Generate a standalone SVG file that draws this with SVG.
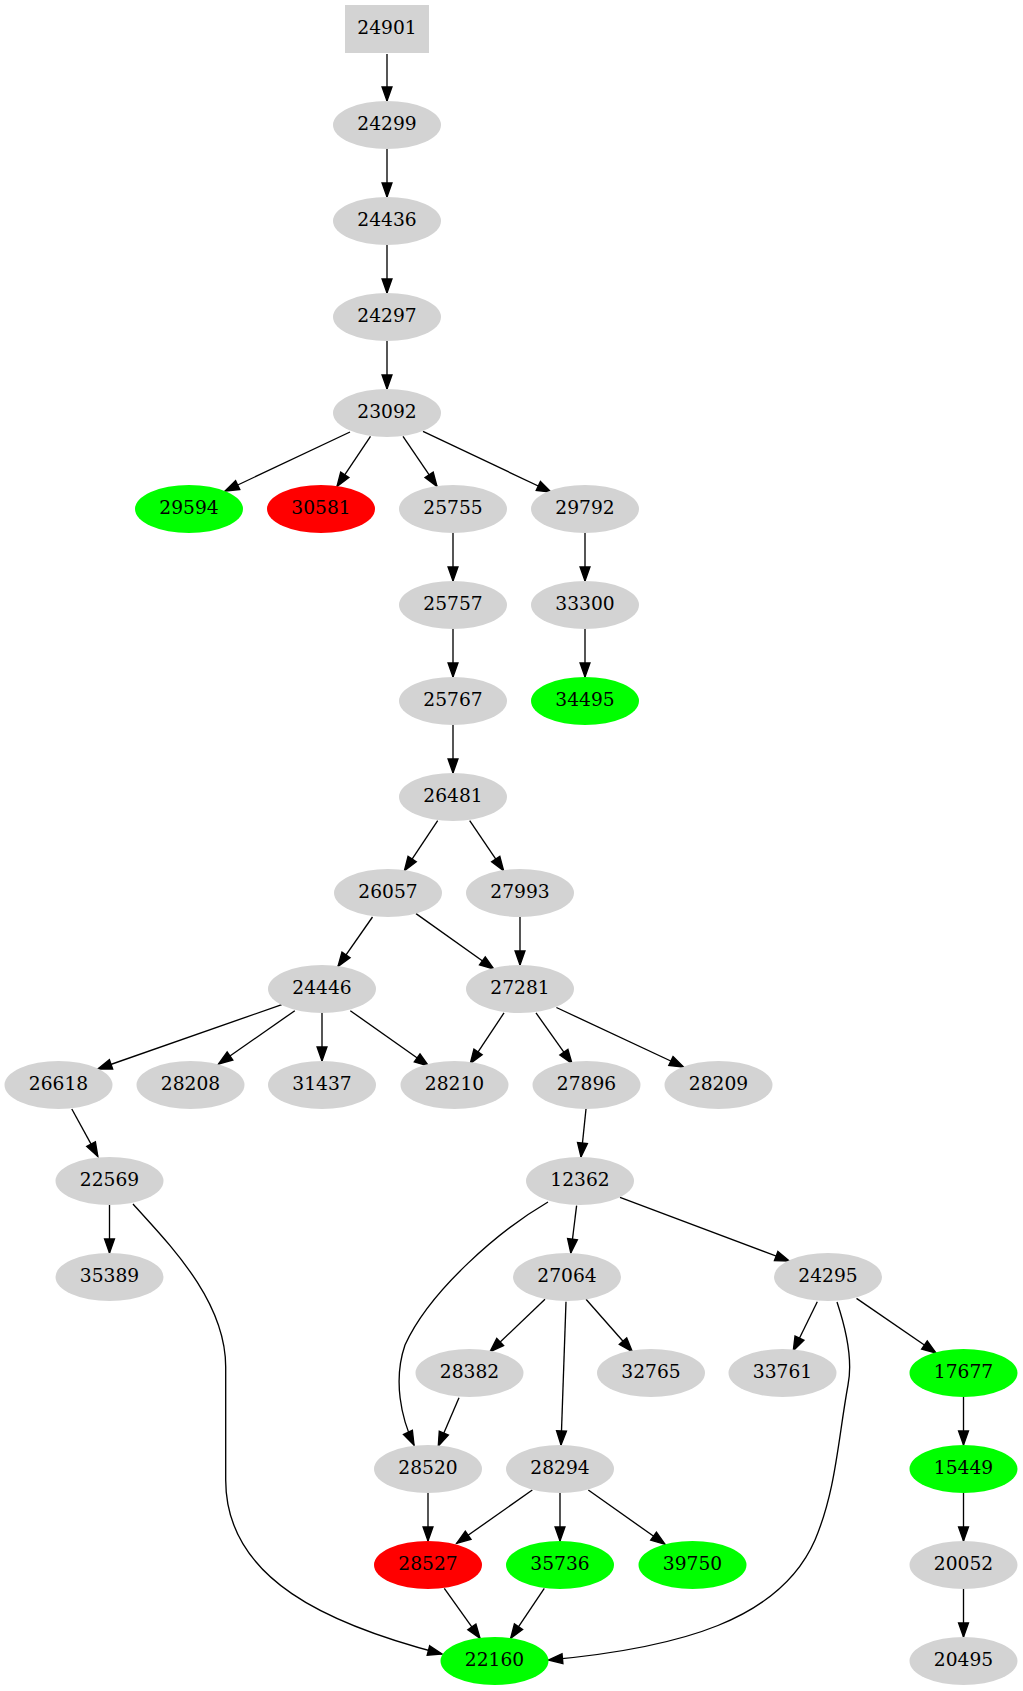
<svg xmlns="http://www.w3.org/2000/svg" width="1023" height="1691" viewBox="0 0 1023 1691">
<style>
.n{fill:#d3d3d3}
.g{fill:#00ff00}
.r{fill:#ff0000}
text{font-family:"DejaVu Serif","Liberation Serif",serif;font-size:18.67px;text-anchor:middle;fill:#000}
.e path{fill:none;stroke:#000;stroke-width:1.33;marker-end:url(#a)}
</style>
<defs>
<marker id="a" markerUnits="userSpaceOnUse" markerWidth="14" markerHeight="10" refX="13.3" refY="4.67" orient="auto" viewBox="0 0 13.3 9.34" overflow="visible">
<path d="M0,0 L13.3,4.67 L0,9.34 z" fill="#000" stroke="#000" stroke-width="1.33"/>
</marker>
</defs>
<rect width="1023" height="1691" fill="#fff"/>
<g id="edges" class="e">
<path d="M387,54 L387,101"/>
<path d="M387,149 L387,197"/>
<path d="M387,245 L387,293"/>
<path d="M387,341 L387,389"/>
<path d="M350,432 L225,491"/>
<path d="M370.5,436.4 L337,486.4"/>
<path d="M403,436.4 L437,486.4"/>
<path d="M423,431.4 L551,492"/>
<path d="M453,533 L453,581"/>
<path d="M585,533 L585,581"/>
<path d="M453,629 L453,677"/>
<path d="M585,629 L585,677"/>
<path d="M453,725 L453,773"/>
<path d="M437.7,820.7 L404.4,870.7"/>
<path d="M469.7,820.7 L503.6,870.7"/>
<path d="M372.5,917 L338,966.4"/>
<path d="M416,913.6 L493.8,969"/>
<path d="M520,917 L520,965"/>
<path d="M281.8,1004.6 L97.8,1069"/>
<path d="M294.8,1010.7 L218.5,1064"/>
<path d="M322,1013 L322,1061"/>
<path d="M350.3,1010.7 L428.6,1066"/>
<path d="M504,1012.9 L470.3,1063.6"/>
<path d="M536,1012.9 L572,1063.6"/>
<path d="M556.4,1007.5 L683.6,1067"/>
<path d="M71.8,1109 L97.8,1156.4"/>
<path d="M586,1109 L581,1157"/>
<path d="M109.5,1205 L109.5,1253"/>
<path d="M133,1204 C168,1243 225.7,1300 225.7,1367 L225.7,1480 C225.7,1580 330,1625 442,1654"/>
<path d="M548,1202 C500,1230 430,1290 405,1345 C393,1380 401,1418 414,1445"/>
<path d="M576.6,1205.6 L570.8,1253"/>
<path d="M620,1197.3 L789.3,1261"/>
<path d="M545,1299.3 L490,1351.7"/>
<path d="M566,1301.7 L561,1445"/>
<path d="M586,1299.3 L632.3,1351.7"/>
<path d="M817.3,1301.7 L793.3,1350.7"/>
<path d="M837,1302 C848,1335 852,1365 848,1385 C838,1440 836,1490 815,1540 C780,1620 680,1648 548.5,1660"/>
<path d="M856.5,1298.4 L936,1353"/>
<path d="M459,1397.7 L438.3,1446"/>
<path d="M428,1493 L428,1541"/>
<path d="M532.3,1490 L456.7,1543.3"/>
<path d="M560,1493 L560,1541"/>
<path d="M588.3,1490 L665,1544.3"/>
<path d="M963.5,1397 L963.5,1445"/>
<path d="M963.5,1493 L963.5,1541"/>
<path d="M963.5,1589 L963.5,1637"/>
<path d="M444.3,1588.3 L480,1638.3"/>
<path d="M544.3,1588.3 L510.7,1638.3"/>
</g>
<g id="n24901"><rect class="n" x="345" y="5" width="84" height="48"/><text x="387" y="34.3">24901</text></g>
<g id="n24299"><ellipse class="n" cx="387" cy="125" rx="54" ry="24"/><text x="387" y="130.3">24299</text></g>
<g id="n24436"><ellipse class="n" cx="387" cy="221" rx="54" ry="24"/><text x="387" y="226.3">24436</text></g>
<g id="n24297"><ellipse class="n" cx="387" cy="317" rx="54" ry="24"/><text x="387" y="322.3">24297</text></g>
<g id="n23092"><ellipse class="n" cx="387" cy="413" rx="54" ry="24"/><text x="387" y="418.3">23092</text></g>
<g id="n29594"><ellipse class="g" cx="189" cy="509" rx="54" ry="24"/><text x="189" y="514.3">29594</text></g>
<g id="n30581"><ellipse class="r" cx="321" cy="509" rx="54" ry="24"/><text x="321" y="514.3">30581</text></g>
<g id="n25755"><ellipse class="n" cx="453" cy="509" rx="54" ry="24"/><text x="453" y="514.3">25755</text></g>
<g id="n29792"><ellipse class="n" cx="585" cy="509" rx="54" ry="24"/><text x="585" y="514.3">29792</text></g>
<g id="n25757"><ellipse class="n" cx="453" cy="605" rx="54" ry="24"/><text x="453" y="610.3">25757</text></g>
<g id="n33300"><ellipse class="n" cx="585" cy="605" rx="54" ry="24"/><text x="585" y="610.3">33300</text></g>
<g id="n25767"><ellipse class="n" cx="453" cy="701" rx="54" ry="24"/><text x="453" y="706.3">25767</text></g>
<g id="n34495"><ellipse class="g" cx="585" cy="701" rx="54" ry="24"/><text x="585" y="706.3">34495</text></g>
<g id="n26481"><ellipse class="n" cx="453" cy="797" rx="54" ry="24"/><text x="453" y="802.3">26481</text></g>
<g id="n26057"><ellipse class="n" cx="388" cy="893" rx="54" ry="24"/><text x="388" y="898.3">26057</text></g>
<g id="n27993"><ellipse class="n" cx="520" cy="893" rx="54" ry="24"/><text x="520" y="898.3">27993</text></g>
<g id="n24446"><ellipse class="n" cx="322" cy="989" rx="54" ry="24"/><text x="322" y="994.3">24446</text></g>
<g id="n27281"><ellipse class="n" cx="520" cy="989" rx="54" ry="24"/><text x="520" y="994.3">27281</text></g>
<g id="n26618"><ellipse class="n" cx="58.5" cy="1085" rx="54" ry="24"/><text x="58.5" y="1090.3">26618</text></g>
<g id="n28208"><ellipse class="n" cx="190.5" cy="1085" rx="54" ry="24"/><text x="190.5" y="1090.3">28208</text></g>
<g id="n31437"><ellipse class="n" cx="322" cy="1085" rx="54" ry="24"/><text x="322" y="1090.3">31437</text></g>
<g id="n28210"><ellipse class="n" cx="454.5" cy="1085" rx="54" ry="24"/><text x="454.5" y="1090.3">28210</text></g>
<g id="n27896"><ellipse class="n" cx="586.5" cy="1085" rx="54" ry="24"/><text x="586.5" y="1090.3">27896</text></g>
<g id="n28209"><ellipse class="n" cx="718.5" cy="1085" rx="54" ry="24"/><text x="718.5" y="1090.3">28209</text></g>
<g id="n22569"><ellipse class="n" cx="109.5" cy="1181" rx="54" ry="24"/><text x="109.5" y="1186.3">22569</text></g>
<g id="n12362"><ellipse class="n" cx="580" cy="1181" rx="54" ry="24"/><text x="580" y="1186.3">12362</text></g>
<g id="n35389"><ellipse class="n" cx="109.5" cy="1277" rx="54" ry="24"/><text x="109.5" y="1282.3">35389</text></g>
<g id="n27064"><ellipse class="n" cx="567" cy="1277" rx="54" ry="24"/><text x="567" y="1282.3">27064</text></g>
<g id="n24295"><ellipse class="n" cx="828" cy="1277" rx="54" ry="24"/><text x="828" y="1282.3">24295</text></g>
<g id="n28382"><ellipse class="n" cx="469.5" cy="1373" rx="54" ry="24"/><text x="469.5" y="1378.3">28382</text></g>
<g id="n32765"><ellipse class="n" cx="651" cy="1373" rx="54" ry="24"/><text x="651" y="1378.3">32765</text></g>
<g id="n33761"><ellipse class="n" cx="782.5" cy="1373" rx="54" ry="24"/><text x="782.5" y="1378.3">33761</text></g>
<g id="n17677"><ellipse class="g" cx="963.5" cy="1373" rx="54" ry="24"/><text x="963.5" y="1378.3">17677</text></g>
<g id="n28520"><ellipse class="n" cx="428" cy="1469" rx="54" ry="24"/><text x="428" y="1474.3">28520</text></g>
<g id="n28294"><ellipse class="n" cx="560" cy="1469" rx="54" ry="24"/><text x="560" y="1474.3">28294</text></g>
<g id="n15449"><ellipse class="g" cx="963.5" cy="1469" rx="54" ry="24"/><text x="963.5" y="1474.3">15449</text></g>
<g id="n28527"><ellipse class="r" cx="428" cy="1565" rx="54" ry="24"/><text x="428" y="1570.3">28527</text></g>
<g id="n35736"><ellipse class="g" cx="560" cy="1565" rx="54" ry="24"/><text x="560" y="1570.3">35736</text></g>
<g id="n39750"><ellipse class="g" cx="692.5" cy="1565" rx="54" ry="24"/><text x="692.5" y="1570.3">39750</text></g>
<g id="n20052"><ellipse class="n" cx="963.5" cy="1565" rx="54" ry="24"/><text x="963.5" y="1570.3">20052</text></g>
<g id="n22160"><ellipse class="g" cx="494.5" cy="1661" rx="54" ry="24"/><text x="494.5" y="1666.3">22160</text></g>
<g id="n20495"><ellipse class="n" cx="963.5" cy="1661" rx="54" ry="24"/><text x="963.5" y="1666.3">20495</text></g>
</svg>
